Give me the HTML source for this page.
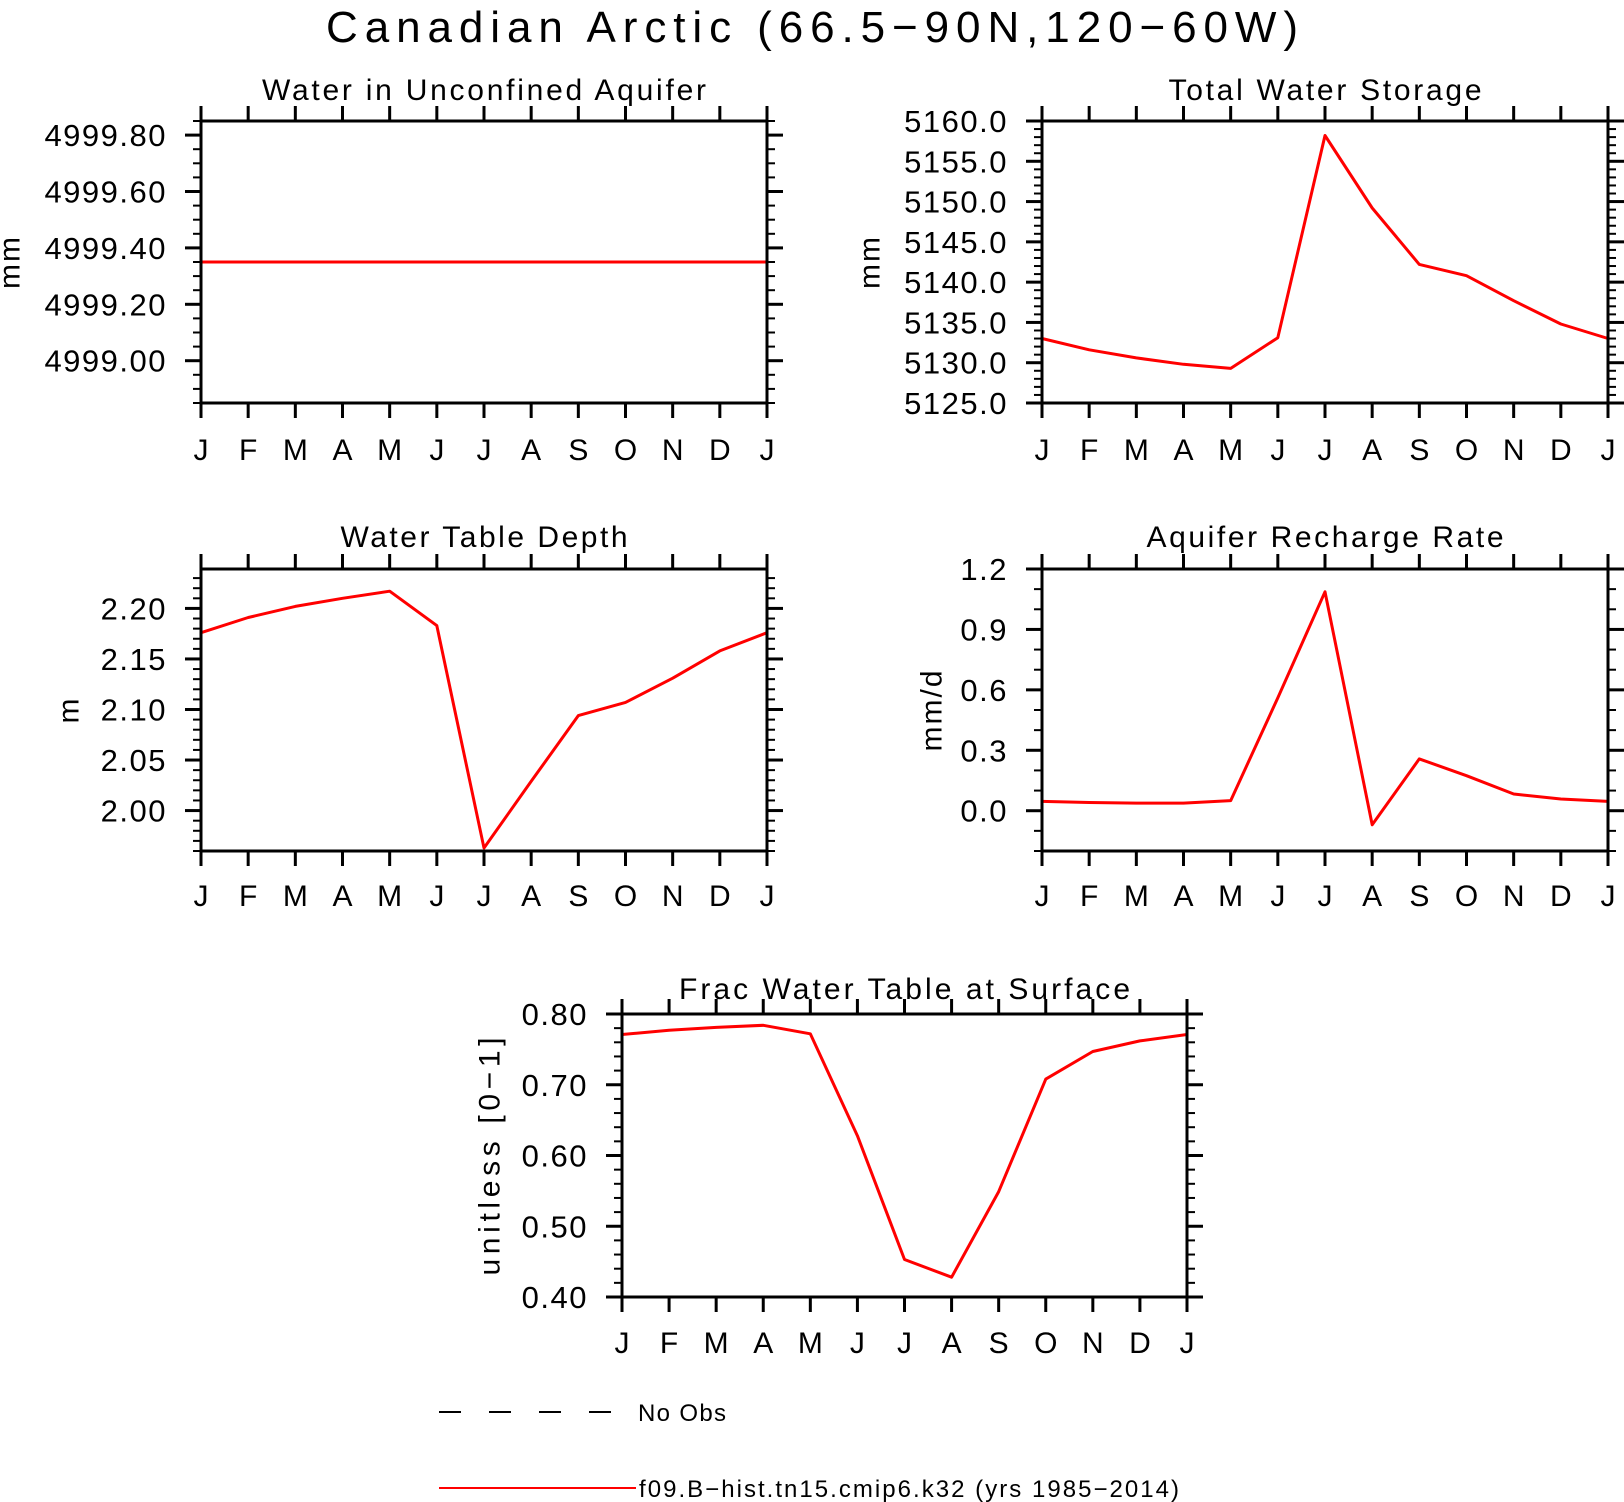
<!DOCTYPE html>
<html><head><meta charset="utf-8"><style>
html,body{margin:0;padding:0;background:#fff;}
svg{display:block;font-family:"Liberation Sans",sans-serif;}
</style></head><body>
<svg id="fig" width="1624" height="1502" viewBox="0 0 1624 1502" xmlns="http://www.w3.org/2000/svg">
<text x="812" y="42" font-size="44" text-anchor="middle" textLength="972" lengthAdjust="spacing">Canadian Arctic (66.5−90N,120−60W)</text>
<g>
<line x1="439" y1="1412" x2="616" y2="1412" stroke="#000" stroke-width="2" stroke-dasharray="22,28"/>
<text x="638" y="1421" font-size="24" textLength="88" lengthAdjust="spacing">No Obs</text>
<line x1="439" y1="1488" x2="636" y2="1488" stroke="#f00" stroke-width="2"/>
<text x="639" y="1497" font-size="24" textLength="540" lengthAdjust="spacing">f09.B−hist.tn15.cmip6.k32 (yrs 1985−2014)</text>
</g>
</svg>
<script>
const months = ["J","F","M","A","M","J","J","A","S","O","N","D","J"];
const aquiferValues = [4999.35,4999.35,4999.35,4999.35,4999.35,4999.35,4999.35,4999.35,4999.35,4999.35,4999.35,4999.35,4999.35];
const aquiferTicks = ["4999.00","4999.20","4999.40","4999.60","4999.80"];
const twsValues = [5133.0,5131.6,5130.6,5129.8,5129.3,5133.1,5158.2,5149.2,5142.2,5140.8,5137.7,5134.8,5133.0];
const twsTicks = ["5125.0","5130.0","5135.0","5140.0","5145.0","5150.0","5155.0","5160.0"];
const wtdValues = [2.176,2.191,2.202,2.210,2.217,2.183,1.963,2.029,2.094,2.107,2.131,2.158,2.176];
const wtdTicks = ["2.00","2.05","2.10","2.15","2.20"];
const rechargeValues = [0.046,0.041,0.038,0.038,0.05,0.56,1.087,-0.07,0.257,0.174,0.083,0.058,0.046];
const rechargeTicks = ["0.0","0.3","0.6","0.9","1.2"];
const fracValues = [0.771,0.777,0.781,0.784,0.772,0.628,0.453,0.428,0.549,0.708,0.747,0.762,0.771];
const fracTicks = ["0.40","0.50","0.60","0.70","0.80"];

const NS="http://www.w3.org/2000/svg";
const svg=document.getElementById('fig');
function mk(tag,attrs,parent){const e=document.createElementNS(NS,tag);for(const k in attrs)e.setAttribute(k,attrs[k]);parent.appendChild(e);return e;}

function panel(o){
  const g=mk('g',{},svg);
  
  
  const {x0,x1,y0,y1,ymin,ymax}=o;
  const sx=i=>x0+(x1-x0)*i/12;
  const sy=v=>y1-(y1-y0)*(v-ymin)/(ymax-ymin);
  const t=mk('text',{x:(x0+x1)/2,y:y0-o.titleOff,'font-size':30,'text-anchor':'middle',textLength:o.titleLen,lengthAdjust:'spacing'},g);
  t.textContent=o.title;
  
  
  const ya={x:o.ytx,y:(y0+y1)/2,'font-size':30,'text-anchor':'middle',transform:`rotate(-90 ${o.ytx} ${(y0+y1)/2})`,'dominant-baseline':'central','letter-spacing':'2'};
  if(o.ytLen){ya.textLength=o.ytLen;ya.lengthAdjust='spacing';}
  const yt=mk('text',ya,g);
  yt.textContent=o.ytitle;
  
  
  months.forEach((m,i)=>{
    const x=sx(i);
    const tb=mk('line',{x1:x,x2:x,y1:y1,y2:y1+15,stroke:'#000','stroke-width':3},g);
    
    
    const tt=mk('line',{x1:x,x2:x,y1:y0,y2:y0-15,stroke:'#000','stroke-width':3},g);
    
    
    const l=mk('text',{x:x,y:y1+o.xlabOff,'font-size':30,'text-anchor':'middle'},g);
    l.textContent=m;
    
    
  });
  const n=Math.round((ymax-ymin)/o.minor);
  for(let k=0;k<=n+1;k++){
    const v=Math.ceil(ymin/o.minor-1e-6)*o.minor+k*o.minor;
    if(v>ymax+1e-9)break;
    const y=sy(v);
    const a=mk('line',{x1:x0,x2:x0-8,y1:y,y2:y,stroke:'#000','stroke-width':2},g);
    
    
    const b=mk('line',{x1:x1,x2:x1+8,y1:y,y2:y,stroke:'#000','stroke-width':2},g);
    
    
  }
  o.ticks.forEach(s=>{
    const y=sy(parseFloat(s));
    const a=mk('line',{x1:x0,x2:x0-16,y1:y,y2:y,stroke:'#000','stroke-width':3},g);
    
    
    const b=mk('line',{x1:x1,x2:x1+16,y1:y,y2:y,stroke:'#000','stroke-width':3},g);
    
    
    const l=mk('text',{x:x0-34,y:y+11,'font-size':31,'text-anchor':'end','letter-spacing':'1.5'},g);
    l.textContent=s;
    
    
  });
  const pts=o.values.map((v,i)=>sx(i).toFixed(1)+','+sy(v).toFixed(1)).join(' ');
  const pl=mk('polyline',{points:pts,fill:'none',stroke:'#f00','stroke-width':3,'stroke-linejoin':'round'},g);
  
  
  const r=mk('rect',{x:x0,y:y0,width:x1-x0,height:y1-y0,fill:'none',stroke:'#000','stroke-width':3},g);
  
  
}

panel({name:'panel-water-unconfined-aquifer',title:'Water in Unconfined Aquifer',titleLen:444,titleOff:21,ytitle:'mm',ytx:10,x0:201,x1:767,y0:121,y1:403,ymin:4998.85,ymax:4999.85,minor:0.05,ticks:aquiferTicks,values:aquiferValues,xlabOff:57});
panel({name:'panel-total-water-storage',title:'Total Water Storage',titleLen:313,titleOff:21,ytitle:'mm',ytx:870,x0:1042,x1:1608,y0:121,y1:403,ymin:5125,ymax:5160,minor:1,ticks:twsTicks,values:twsValues,xlabOff:57});
panel({name:'panel-water-table-depth',title:'Water Table Depth',titleLen:287,titleOff:22,ytitle:'m',ytx:69,x0:201,x1:767,y0:569,y1:851,ymin:1.96,ymax:2.239,minor:0.01,ticks:wtdTicks,values:wtdValues,xlabOff:55});
panel({name:'panel-aquifer-recharge-rate',title:'Aquifer Recharge Rate',titleLen:357,titleOff:22,ytitle:'mm/d',ytx:932,x0:1042,x1:1608,y0:569,y1:851,ymin:-0.2,ymax:1.2,minor:0.1,ticks:rechargeTicks,values:rechargeValues,xlabOff:55});
panel({name:'panel-frac-water-table-surface',title:'Frac Water Table at Surface',titleLen:451,titleOff:15,ytitle:'unitless [0−1]',ytLen:240,ytx:490,x0:622,x1:1187,y0:1014,y1:1297,ymin:0.4,ymax:0.8,minor:0.02,ticks:fracTicks,values:fracValues,xlabOff:56});
</script>
</body></html>
